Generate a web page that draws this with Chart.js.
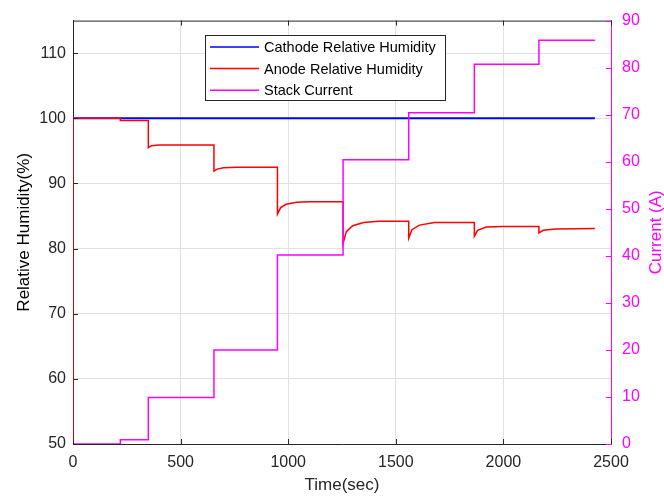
<!DOCTYPE html>
<html>
<head>
<meta charset="utf-8">
<title>Relative humidity and stack current</title>
<script src="https://cdn.jsdelivr.net/npm/chart.js@4.4.1/dist/chart.umd.min.js"></script>
<style>
  html, body { margin: 0; padding: 0; background: #fff; }
  canvas { display: block; }
</style>
</head>
<body>
<canvas id="rhChart" width="664" height="497"></canvas>
<script>
// axis tick values
const timeTicks = [0, 500, 1000, 1500, 2000, 2500];
const rhTicks = [50, 60, 70, 80, 90, 100, 110];
const currentTicks = [0, 10, 20, 30, 40, 50, 60, 70, 80, 90];

// cathode RH is held at 100 % for the whole run
const cathodeTime = [0, 2425];
const cathodeRH = [100, 100];

// anode RH dips at every load step and then settles again
const anodeTime = [0, 0, 220, 220, 350, 350, 365, 400, 655,
    655, 670, 700, 760, 950,
    950, 965, 990, 1040, 1100, 1255,
    1255, 1270, 1300, 1350, 1420, 1560,
    1560, 1575, 1610, 1680, 1865,
    1865, 1880, 1920, 2000, 2165,
    2165, 2185, 2240, 2425];
const anodeRH = [0, 100, 100, 99.65, 99.65, 95.5, 95.8, 95.9, 95.9,
    91.9, 92.2, 92.4, 92.5, 92.5,
    85.3, 86.3, 86.8, 87.1, 87.2, 87.2,
    80.8, 82.6, 83.5, 84.0, 84.2, 84.2,
    81.6, 82.9, 83.6, 84.0, 84.0,
    81.9, 82.8, 83.3, 83.4, 83.4,
    82.4, 82.8, 83.0, 83.1];

// stack current load profile (A)
const currentTime = [0, 220, 220, 350, 350, 655, 655, 950, 950,
    1255, 1255, 1560, 1560, 1865, 1865, 2165, 2165, 2425];
const currentAmps = [0, 0, 0.9, 0.9, 9.9, 9.9, 20, 20, 40.2,
    40.2, 60.4, 60.4, 70.4, 70.4, 80.7, 80.7, 85.8, 85.8];

const FONT = '"Liberation Sans", Arial, Helvetica, sans-serif';
const AXIS_GREY = '#262626';
const MAGENTA = '#ff00ff';

function toPoints(xs, ys) {
    return xs.map((t, i) => ({ x: t, y: ys[i] }));
}

function keepTicks(values) {
    return function (scale) {
        scale.ticks = values.map(v => ({ value: v }));
    };
}

// plain numbers, no thousands separator
const plainLabel = v => String(v);

// frame, inward tick marks, right axis title and boxed legend
const matlabFrame = {
    id: 'matlabFrame',
    afterDraw(chart) {
        const { ctx, chartArea, scales } = chart;
        const { left, right, top, bottom } = chartArea;
        const tickLen = 5;
        ctx.save();
        ctx.lineWidth = 1;

        ctx.strokeStyle = AXIS_GREY;
        ctx.beginPath();
        ctx.moveTo(left, top + 0.5);
        ctx.lineTo(right, top + 0.5);
        scales.x.ticks.forEach(t => {
            const px = Math.round(scales.x.getPixelForValue(t.value)) + 0.5;
            ctx.moveTo(px, bottom);
            ctx.lineTo(px, bottom - tickLen);
            ctx.moveTo(px, top);
            ctx.lineTo(px, top + tickLen);
        });
        scales.y.ticks.forEach(t => {
            const py = Math.round(scales.y.getPixelForValue(t.value)) + 0.5;
            ctx.moveTo(left, py);
            ctx.lineTo(left + tickLen, py);
        });
        ctx.stroke();

        ctx.strokeStyle = MAGENTA;
        ctx.beginPath();
        scales.y1.ticks.forEach(t => {
            const py = Math.round(scales.y1.getPixelForValue(t.value)) + 0.5;
            ctx.moveTo(right, py);
            ctx.lineTo(right - tickLen, py);
        });
        ctx.stroke();

        // right axis title reads bottom to top
        ctx.save();
        ctx.translate(656, (top + bottom) / 2);
        ctx.rotate(-Math.PI / 2);
        ctx.font = '17px ' + FONT;
        ctx.fillStyle = MAGENTA;
        ctx.textAlign = 'center';
        ctx.textBaseline = 'middle';
        ctx.fillText('Current (A)', 0, 0);
        ctx.restore();

        // legend box
        const box = { x: 205.5, y: 35.5, w: 240, h: 65 };
        ctx.fillStyle = '#ffffff';
        ctx.fillRect(box.x, box.y, box.w, box.h);
        ctx.strokeStyle = AXIS_GREY;
        ctx.strokeRect(box.x, box.y, box.w, box.h);
        ctx.font = '14.5px ' + FONT;
        ctx.textAlign = 'left';
        ctx.textBaseline = 'middle';
        chart.data.datasets.forEach((ds, i) => {
            const rowY = 47 + i * 21.6;
            ctx.strokeStyle = ds.borderColor;
            ctx.lineWidth = 1.5;
            ctx.beginPath();
            ctx.moveTo(210, rowY);
            ctx.lineTo(259, rowY);
            ctx.stroke();
            ctx.fillStyle = '#000000';
            ctx.fillText(ds.label, 264, rowY + 1);
        });
        ctx.restore();
    }
};

const ctx = document.getElementById('rhChart').getContext('2d');

new Chart(ctx, {
    type: 'line',
    data: {
        datasets: [
            {
                label: 'Cathode Relative Humidity',
                data: toPoints(cathodeTime, cathodeRH),
                borderColor: '#0000ff',
                borderWidth: 2,
                yAxisID: 'y',
                order: 3
            },
            {
                label: 'Anode Relative Humidity',
                data: toPoints(anodeTime, anodeRH),
                borderColor: '#ff0000',
                yAxisID: 'y',
                order: 2
            },
            {
                label: 'Stack Current',
                data: toPoints(currentTime, currentAmps),
                borderColor: MAGENTA,
                yAxisID: 'y1',
                order: 1
            }
        ]
    },
    options: {
        responsive: false,
        animation: false,
        devicePixelRatio: 1,
        layout: { padding: { top: 17, left: 0, right: 0, bottom: 0 } },
        elements: {
            point: { radius: 0 },
            line: { borderWidth: 1.5, tension: 0 }
        },
        plugins: {
            legend: { display: false },
            tooltip: { enabled: false }
        },
        scales: {
            x: {
                type: 'linear',
                min: 0,
                max: 2500,
                afterBuildTicks: keepTicks(timeTicks),
                afterFit: s => { s.height = 53; },
                ticks: { color: AXIS_GREY, padding: 9, maxRotation: 0, callback: plainLabel, font: { family: FONT, size: 16 } },
                grid: { color: '#e1e1e1', drawTicks: false },
                border: { color: AXIS_GREY },
                title: {
                    display: true,
                    text: 'Time(sec)',
                    color: AXIS_GREY,
                    font: { family: FONT, size: 17 },
                    padding: { top: 0, bottom: 1 }
                }
            },
            y: {
                position: 'left',
                min: 50,
                max: 115,
                afterBuildTicks: keepTicks(rhTicks),
                afterFit: s => { s.width = 73; },
                ticks: { color: AXIS_GREY, padding: 7, callback: plainLabel, font: { family: FONT, size: 16 } },
                grid: { color: '#e1e1e1', drawTicks: false },
                border: { color: AXIS_GREY },
                title: {
                    display: true,
                    text: 'Relative Humidity(%)',
                    color: '#000000',
                    font: { family: FONT, size: 17 },
                    padding: { top: 14, bottom: 0 }
                }
            },
            y1: {
                position: 'right',
                min: 0,
                max: 90,
                afterBuildTicks: keepTicks(currentTicks),
                afterFit: s => { s.width = 53; },
                ticks: { color: MAGENTA, padding: 11, callback: plainLabel, font: { family: FONT, size: 16 } },
                grid: { drawOnChartArea: false, drawTicks: false },
                border: { color: MAGENTA }
            }
        }
    },
    plugins: [matlabFrame]
});
</script>
</body>
</html>
